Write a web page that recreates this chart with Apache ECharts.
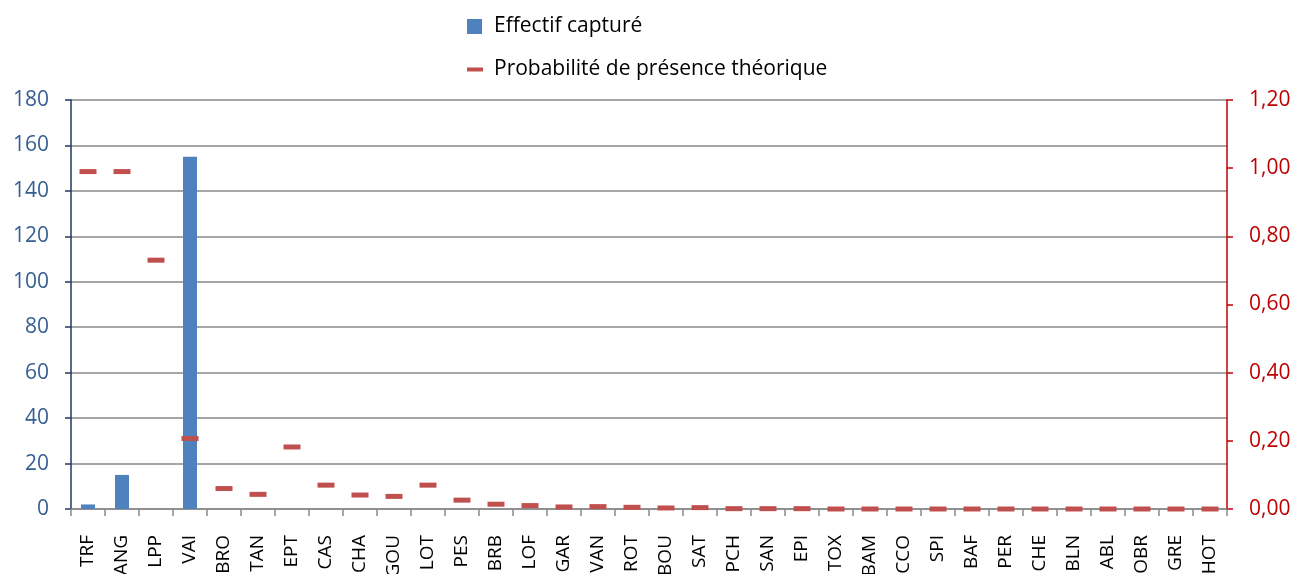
<!DOCTYPE html>
<html>
<head>
<meta charset="utf-8">
<script src="https://cdn.jsdelivr.net/npm/echarts@6/dist/echarts.min.js"></script>
<style>html,body{margin:0;padding:0;background:#fff}#c{width:1296px;height:574px}</style>
</head>
<body>
<div id="c"></div>
<script>
const categories = ["TRF","ANG","LPP","VAI","BRO","TAN","EPT","CAS","CHA","GOU","LOT","PES","BRB","LOF","GAR","VAN","ROT","BOU","SAT","PCH","SAN","EPI","TOX","BAM","CCO","SPI","BAF","PER","CHE","BLN","ABL","OBR","GRE","HOT"];
const effectif = [2,15,0,155,0,0,0,0,0,0,0,0,0,0,0,0,0,0,0,0,0,0,0,0,0,0,0,0,0,0,0,0,0,0];
const probabilite = [0.99,0.99,0.73,0.207,0.06,0.043,0.182,0.07,0.041,0.037,0.07,0.026,0.014,0.01,0.006,0.007,0.005,0.003,0.004,0.001,0.001,0.001,0,0,0,0,0,0,0,0,0,0,0,0];
const leftTicks = [0,20,40,60,80,100,120,140,160,180];
const rightTicks = [0,0.2,0.4,0.6,0.8,1.0,1.2];

const FONT = "'Open Sans', 'Noto Sans', sans-serif";
const chart = echarts.init(document.getElementById('c'));
chart.setOption({
  animation: false,
  textStyle: {fontFamily: FONT},
  grid: {left: 71, right: 69, top: 100, bottom: 65, containLabel: false, outerBoundsMode: 'none'},
  legend: [
    {data: [{name: 'Effectif capturé', icon: 'rect'}], left: 467, top: 16, orient: 'vertical', padding: 0,
     itemWidth: 15, itemHeight: 15, itemGap: 8,
     textStyle: {fontSize: 21, lineHeight: 21, color: '#000', fontFamily: FONT, padding: [0, 0, 0, 7]}},
    {data: [{name: 'Probabilité de présence théorique', icon: 'rect'}], left: 467, top: 59, orient: 'vertical', padding: 0,
     itemWidth: 16, itemHeight: 4, itemGap: 8,
     textStyle: {fontSize: 21, lineHeight: 21, color: '#000', fontFamily: FONT, padding: [0, 0, 0, 6]}}
  ],
  xAxis: {
    type: 'category', data: categories, boundaryGap: true,
    axisLine: {lineStyle: {color: '#898989', width: 1.5}},
    axisTick: {show: true, alignWithLabel: false, length: 7, lineStyle: {color: '#898989', width: 1.5}},
    axisLabel: {rotate: 90, interval: 0, fontSize: 19, color: '#000', margin: 26, fontFamily: FONT}
  },
  yAxis: [
    {type: 'value', min: leftTicks[0], max: leftTicks[leftTicks.length-1], interval: 20, position: 'left',
     axisLine: {show: true, lineStyle: {color: '#1F3864', width: 1.5}},
     axisTick: {show: true, length: 6, lineStyle: {color: '#1F3864', width: 1.5}},
     axisLabel: {fontSize: 21, color: '#376092', margin: 22, fontFamily: FONT},
     splitLine: {show: true, lineStyle: {color: '#898989', width: 1.5}}},
    {type: 'value', min: rightTicks[0], max: rightTicks[rightTicks.length-1], interval: 0.2, position: 'right',
     axisLine: {show: true, lineStyle: {color: '#C00000', width: 1.5}},
     axisTick: {show: true, length: 6, lineStyle: {color: '#C00000', width: 1.5}},
     axisLabel: {fontSize: 21, color: '#C00000', margin: 22, fontFamily: FONT,
       formatter: v => v.toFixed(2).replace('.', ',')},
     splitLine: {show: false}}
  ],
  series: [
    {name: 'Effectif capturé', type: 'bar', data: effectif, yAxisIndex: 0, barWidth: 14,
     itemStyle: {color: '#4F81BD'}},
    {name: 'Probabilité de présence théorique', type: 'scatter', data: probabilite, yAxisIndex: 1,
     symbol: 'rect', symbolSize: [17, 5], itemStyle: {color: '#C0504D', opacity: 1}, z: 5}
  ]
});
</script>
</body>
</html>
